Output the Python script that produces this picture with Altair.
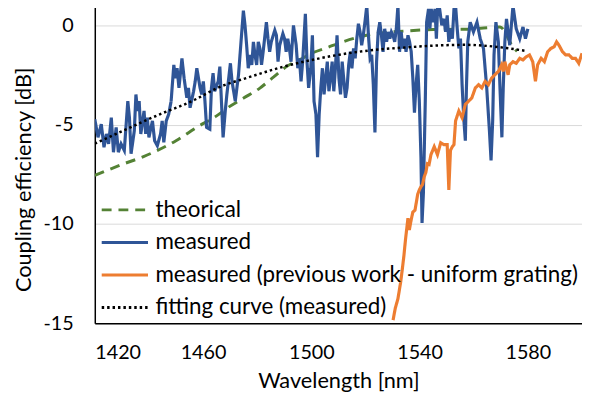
import altair as alt
import pandas as pd

series_names = ["theorical", "measured", "measured (previous work - uniform grating)", "fitting  curve (measured)"]
series_colors = ["#548235", "#2F5597", "#ED7D31", "#000000"]
series_dash = [[10, 7], [1, 0], [1, 0], [2.5, 3]]

theory_wl = [1420, 1430, 1438, 1450, 1458, 1465, 1469, 1475, 1481, 1486, 1491, 1496, 1500, 1506, 1511,
             1517, 1523, 1529, 1535, 1545, 1557, 1563.6, 1569.7, 1574.5, 1576]
theory_val = [-7.55, -7.0, -6.6, -5.8, -5.1, -4.55, -4.15, -3.65, -3.15, -2.6, -2.05, -1.7, -1.4, -1.1, -0.85,
              -0.6, -0.42, -0.33, -0.27, -0.2, -0.18, -0.12, -0.07, -1.07, -1.3]

fit_wl = [1420, 1432, 1444, 1456, 1466, 1477, 1490, 1502, 1512, 1523, 1535, 1547, 1557, 1567, 1573, 1579]
fit_val = [-5.95, -5.2, -4.47, -3.8, -3.1, -2.6, -2.06, -1.68, -1.43, -1.23, -1.1, -1.0, -0.97, -1.05, -1.15, -1.27]

meas_wl = [1420.0, 1421.2, 1422.4, 1423.4, 1424.3, 1425.1, 1426.1, 1426.9, 1427.9, 1428.7, 1429.7, 1430.9,
           1432.2, 1432.8, 1433.4, 1434.6, 1435.2, 1435.8, 1436.4, 1437.0, 1438.2, 1438.8, 1439.4, 1440.0,
           1441.3, 1442.1, 1443.1, 1444.3, 1444.9, 1445.5, 1446.4, 1447.3, 1448.2, 1449.2, 1449.8, 1450.4,
           1451.1, 1452.2, 1453.0, 1454.0, 1454.6, 1455.2, 1456.5, 1457.1, 1457.7, 1458.9, 1459.5, 1460.1,
           1460.7, 1461.3, 1462.5, 1463.1, 1463.7, 1464.3, 1465.6, 1466.2,
           1467.4, 1468.2, 1468.8, 1470.1, 1470.7, 1471.9, 1472.5, 1473.1, 1474.3, 1474.9, 1475.5, 1476.1,
           1476.7, 1477.4, 1478.0, 1478.6, 1479.2, 1479.8, 1480.4, 1481.0, 1481.6, 1482.2, 1483.4, 1484.0,
           1484.6, 1485.2, 1486.5, 1487.1, 1487.7, 1488.3, 1489.5, 1490.1, 1490.7, 1491.3, 1491.9, 1492.5,
           1493.4, 1494.4, 1495.0, 1495.6, 1496.2, 1496.8, 1497.8, 1498.4, 1499.0, 1499.8, 1500.4, 1501.0,
           1501.7, 1502.3, 1502.9, 1503.5, 1504.1, 1504.7, 1505.3, 1505.9, 1506.5, 1507.1, 1507.7, 1508.3,
           1508.9, 1509.5, 1510.2, 1510.8, 1511.4, 1512.6,
           1513.2, 1513.8, 1514.4, 1515.0, 1515.6, 1516.2, 1516.8, 1517.4, 1518.0, 1518.6, 1519.2, 1519.8,
           1520.5, 1521.1, 1521.7, 1522.3, 1522.9, 1523.5, 1524.1, 1524.7, 1525.3, 1525.9, 1526.5, 1527.1,
           1527.8, 1528.4, 1529.0, 1529.6, 1530.2, 1530.8, 1531.4, 1532.0, 1532.6, 1533.2, 1533.8, 1534.4,
           1535.0, 1535.7, 1536.3, 1536.9, 1537.5, 1538.1, 1538.7, 1539.3, 1539.9, 1540.5, 1540.9, 1541.4,
           1542.1, 1542.6, 1543.3, 1543.8, 1544.3, 1545.0, 1545.7, 1546.2, 1546.7, 1547.4, 1548.2, 1549.0,
           1549.6, 1550.2, 1550.8, 1551.4, 1552.1, 1552.7, 1553.3, 1553.9, 1554.5, 1555.1, 1555.7, 1556.3,
           1556.9,
           1557.3, 1557.8, 1558.7, 1559.9, 1561.2, 1562.4, 1563.6, 1564.8, 1565.8, 1566.4, 1567.0, 1567.5,
           1568.2, 1569.1, 1569.7, 1570.4, 1570.9, 1571.5, 1572.1, 1573.3, 1574.5, 1575.7, 1577.0, 1578.2,
           1579.1, 1580.0]
meas_val = [-4.72, -5.63, -4.97, -6.13, -5.46, -5.96, -4.64, -6.38, -5.13, -6.38, -5.96, -6.29,
            -3.81, -4.64, -6.46, -5.30, -3.47, -4.30, -3.81, -5.46, -4.30, -5.46, -4.64, -5.63,
            -4.80, -5.80, -6.05, -5.46, -4.80, -5.88, -4.80, -4.47, -3.81, -1.98, -2.65, -2.15,
            -3.14, -1.65, -2.65, -3.64, -3.14, -4.14, -3.31, -2.81, -2.15, -3.14, -3.47, -2.81,
            -3.81, -5.13, -5.22, -3.14, -2.40, -3.31, -2.81, -2.07,
            -5.63, -4.30, -3.47, -1.90, -2.81, -3.81, -3.14, -2.48, -0.32, 0.75, 0.01, -0.99,
            -2.15, -1.48, -1.98, -0.82, -1.48, -1.98, -0.82, -1.15, -1.98, -1.32, 0.17, -0.66,
            -1.32, -0.82, -0.24, -0.49, -1.82, -0.99, -0.41, -0.66, -1.32, -0.66, -1.15, -1.82,
            0.01, -0.99, -2.15, -1.65, -2.81, -1.82, 0.59, -1.82, -3.14, -2.15, -0.49, -3.81,
            -4.47, -6.63, -4.47, -3.14, -2.15, -3.47, -2.65, -1.82, -3.31, -2.65, -1.82, -3.31,
            -2.15, -0.49, -2.65, -3.47, -1.82, -3.64,
            -3.14, -1.98, -1.32, -2.15, -1.15, -1.65, -0.66, 0.09, -0.32, -0.99, -0.49, 0.17,
            1.0, -0.49, -1.65, -1.48, -2.98, -5.38, -1.82, -0.32, 0.17, -0.49, -1.32, -0.16,
            -0.82, -0.32, -0.66, -0.32, -0.49, -0.82, -0.16, 1.0, -1.32, -0.32, -1.15, -0.66,
            -1.32, -0.49, -0.82, -1.32, -2.65, -4.39, -2.98, -1.98, -3.81, -6.63, -9.94, -8.45,
            -3.81, 0.17, 0.84, -0.16, 0.84, 0.17, 0.84, -0.66, 1.0, 0.84, 0.01, 0.34,
            -0.32, 0.51, -0.82, -0.16, -0.66, 0.84, 1.0, -0.16, -1.15, -0.66, -2.98, -4.64,
            -5.80,
            -3.14, -0.82, 0.17, -0.32, 0.17, -0.66, -1.15, -3.14, -5.30, -6.79, -4.80, -1.48,
            0.17, -0.82, -3.14, -5.63, -3.14, -0.82, 0.34, -0.99, 1.0, -0.16, -0.66, -0.07,
            -0.66, -0.16]

prev_wl = [1530.2, 1531.0, 1532.0, 1533.0, 1533.5, 1534.2, 1534.8, 1535.7, 1536.2, 1536.9, 1537.5, 1538.3,
           1539.3, 1539.9, 1540.5, 1541.1, 1541.7, 1542.3, 1542.9, 1543.5, 1544.2, 1545.4, 1546.6, 1547.8,
           1549.0, 1550.2, 1550.8, 1551.4, 1552.1, 1552.7, 1553.3, 1554.5, 1555.7, 1556.9, 1558.1, 1559.3,
           1560.6, 1561.8, 1563.0, 1564.2, 1565.4, 1566.6, 1567.8, 1569.1, 1570.3, 1570.9, 1571.5, 1572.7,
           1573.3, 1574.5, 1575.7, 1577.0, 1578.2, 1579.4, 1580.6, 1581.8, 1582.8, 1583.6, 1584.9, 1586.1,
           1587.3, 1588.5, 1589.7, 1590.6, 1591.5, 1592.8, 1594.0, 1595.2, 1596.4, 1597.6, 1598.8, 1600.0]
prev_val = [-14.84, -14.25, -13.76, -12.93, -12.4, -11.6, -10.77, -9.7, -10.3, -9.78, -9.4, -9.3,
            -8.5, -8.28, -8.12, -8.0, -7.62, -7.4, -6.96, -7.0, -6.5, -6.1, -6.5, -5.9,
            -6.0, -6.0, -8.28, -6.29, -6.1, -6.0, -4.8, -4.3, -4.64, -3.97, -3.81, -3.64,
            -3.14, -2.98, -3.14, -2.81, -2.98, -2.65, -2.48, -2.31, -1.98, -2.31, -1.82, -2.48,
            -1.98, -1.82, -1.9, -1.65, -1.73, -1.57, -1.48, -1.82, -2.81, -1.98, -1.65, -1.82,
            -1.32, -1.15, -1.07, -0.82, -0.99, -1.32, -1.48, -1.48, -1.65, -1.65, -1.9, -1.4]

x_ticks = [1420, 1460, 1500, 1540, 1580]
y_ticks = [-15, -10, -5, 0]


def frame(wl, val, name):
    return pd.DataFrame({"wl": wl[:len(val)], "val": val[:len(wl)], "series": name})


dfs = [frame(theory_wl, theory_val, series_names[0]),
       frame(meas_wl, meas_val, series_names[1]),
       frame(prev_wl, prev_val, series_names[2]),
       frame(fit_wl, fit_val, series_names[3])]

FONT = "Lato"

x_enc = alt.X("wl:Q", scale=alt.Scale(domain=[1420, 1600], nice=False, zero=False),
              axis=alt.Axis(values=x_ticks, title="Wavelength [nm]", grid=False, ticks=False,
                            tickSize=0, labelPadding=20, domainColor="#000000", domainWidth=1.5,
                            labelExpr="'' + datum.value",
                            titleY=58, titleBaseline="middle"))
y_enc = alt.Y("val:Q", scale=alt.Scale(domain=[-15, 1], nice=False, zero=False),
              axis=alt.Axis(values=y_ticks, title="Coupling efficiency [dB]", grid=True,
                            gridColor="#D9D9D9", gridWidth=1, ticks=False, tickSize=0,
                            labelPadding=22, domainColor="#000000", domainWidth=1.5,
                            labelExpr="'' + datum.value",
                            titleX=-72, titleY=176, titleBaseline="middle", titleAngle=270))

# a long horizontal stroke symbol; row height follows sqrt(symbolSize)
legend_kw = dict(title=None, orient="none", legendX=9.5, legendY=186, columns=1, gridAlign="all",
                 symbolType="M-1.22,0H1.22", symbolSize=1482, symbolStrokeWidth=3,
                 labelFont=FONT, labelFontSize=22.7, labelColor="#000000",
                 labelLimit=600, labelOffset=10, rowPadding=0, padding=0)
color_enc = alt.Color("series:N", scale=alt.Scale(domain=series_names, range=series_colors),
                      legend=alt.Legend(**legend_kw))
dash_enc = alt.StrokeDash("series:N", scale=alt.Scale(domain=series_names, range=series_dash),
                          legend=alt.Legend(**legend_kw))

layers = []
widths = [3, 3.2, 3.2, 2.5]
interps = ["monotone", "linear", "linear", "monotone"]
for df, w, ip in zip(dfs, widths, interps):
    layers.append(
        alt.Chart(df).mark_line(strokeWidth=w, interpolate=ip, clip=True, strokeCap="butt")
        .encode(x=x_enc, y=y_enc, color=color_enc, strokeDash=dash_enc)
    )

chart = alt.layer(*layers).properties(
    width=494, height=322,
    autosize=alt.AutoSizeParams(type="none"),
    padding={"left": 88, "top": -5, "right": 0, "bottom": 70},
    background="#FFFFFF",
).configure_view(stroke=None).configure_axis(
    labelFont=FONT, labelFontSize=20, labelColor="#000000",
    titleFont=FONT, titleFontSize=22, titleColor="#000000", titleFontWeight="normal",
)

chart.save("out.html", embed_options={"renderer": "svg", "actions": False})
